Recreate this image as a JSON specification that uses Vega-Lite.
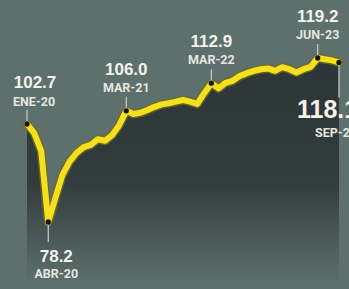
{
  "$schema": "https://vega.github.io/schema/vega-lite/v6.json",
  "width": 349,
  "height": 289,
  "autosize": {"type": "none"},
  "padding": 0,
  "background": "#5e706c",
  "config": {"view": {"stroke": null}},
  "datasets": {
    "series": [
      {"i": 0, "mes": "ENE-20", "v": 102.7},
      {"i": 1, "mes": "FEB-20", "v": 100.5},
      {"i": 2, "mes": "MAR-20", "v": 96.0},
      {"i": 3, "mes": "ABR-20", "v": 78.2},
      {"i": 4, "mes": "MAY-20", "v": 84.2},
      {"i": 5, "mes": "JUN-20", "v": 90.0},
      {"i": 6, "mes": "JUL-20", "v": 93.3},
      {"i": 7, "mes": "AGO-20", "v": 95.5},
      {"i": 8, "mes": "SEP-20", "v": 96.9},
      {"i": 9, "mes": "OCT-20", "v": 97.5},
      {"i": 10, "mes": "NOV-20", "v": 98.9},
      {"i": 11, "mes": "DIC-20", "v": 98.5},
      {"i": 12, "mes": "ENE-21", "v": 99.9},
      {"i": 13, "mes": "FEB-21", "v": 102.4},
      {"i": 14, "mes": "MAR-21", "v": 106.0},
      {"i": 15, "mes": "ABR-21", "v": 105.2},
      {"i": 16, "mes": "MAY-21", "v": 105.5},
      {"i": 17, "mes": "JUN-21", "v": 106.2},
      {"i": 18, "mes": "JUL-21", "v": 107.0},
      {"i": 19, "mes": "AGO-21", "v": 107.6},
      {"i": 20, "mes": "SEP-21", "v": 107.9},
      {"i": 21, "mes": "OCT-21", "v": 108.3},
      {"i": 22, "mes": "NOV-21", "v": 108.7},
      {"i": 23, "mes": "DIC-21", "v": 108.3},
      {"i": 24, "mes": "ENE-22", "v": 107.7},
      {"i": 25, "mes": "FEB-22", "v": 110.4},
      {"i": 26, "mes": "MAR-22", "v": 112.9},
      {"i": 27, "mes": "ABR-22", "v": 111.6},
      {"i": 28, "mes": "MAY-22", "v": 113.0},
      {"i": 29, "mes": "JUN-22", "v": 113.5},
      {"i": 30, "mes": "JUL-22", "v": 114.7},
      {"i": 31, "mes": "AGO-22", "v": 115.4},
      {"i": 32, "mes": "SEP-22", "v": 116.0},
      {"i": 33, "mes": "OCT-22", "v": 116.4},
      {"i": 34, "mes": "NOV-22", "v": 116.6},
      {"i": 35, "mes": "DIC-22", "v": 116.0},
      {"i": 36, "mes": "ENE-23", "v": 116.9},
      {"i": 37, "mes": "FEB-23", "v": 116.4},
      {"i": 38, "mes": "MAR-23", "v": 115.6},
      {"i": 39, "mes": "ABR-23", "v": 116.4},
      {"i": 40, "mes": "MAY-23", "v": 117.0},
      {"i": 41, "mes": "JUN-23", "v": 119.2},
      {"i": 42, "mes": "JUL-23", "v": 118.9},
      {"i": 43, "mes": "AGO-23", "v": 118.6},
      {"i": 44, "mes": "SEP-23", "v": 118.1}
    ],
    "labels": [
      {"i": 0, "mes": "ENE-20", "v": 102.7},
      {"i": 3, "mes": "ABR-20", "v": 78.2},
      {"i": 14, "mes": "MAR-21", "v": 106.0},
      {"i": 26, "mes": "MAR-22", "v": 112.9},
      {"i": 41, "mes": "JUN-23", "v": 119.2},
      {"i": 44, "mes": "SEP-23", "v": 118.1}
    ]
  },
  "encoding": {
    "x": {"field": "i", "type": "quantitative", "axis": null,
          "scale": {"domain": [-3.808, 45.415], "nice": false, "zero": false}},
    "y": {"field": "v", "type": "quantitative", "axis": null,
          "scale": {"domain": [61.45, 133.7], "nice": false, "zero": false}}
  },
  "layer": [
    {
      "data": {"name": "series"},
      "mark": {"type": "area",
               "color": {"gradient": "linear", "x1": 0, "y1": 0, "x2": 0, "y2": 1,
                         "stops": [{"offset": 0, "color": "#2c3637"},
                                   {"offset": 0.55, "color": "#323c3c"},
                                   {"offset": 1, "color": "#5e716d"}]}},
      "encoding": {"y2": {"datum": 62.5}}
    },
    {
      "data": {"name": "series"},
      "mark": {"type": "line", "stroke": "#6e6a26", "strokeWidth": 9, "strokeJoin": "round", "strokeCap": "round", "opacity": 0.8},
      "encoding": {}
    },
    {
      "data": {"name": "series"},
      "mark": {"type": "line", "stroke": "#f4e01c", "strokeWidth": 6, "strokeJoin": "round", "strokeCap": "round"},
      "encoding": {}
    },
    {
      "data": {"name": "labels"},
      "transform": [{"filter": {"field": "mes", "oneOf": ["ENE-20", "MAR-21", "MAR-22", "JUN-23"]}}],
      "mark": {"type": "rule", "stroke": "#c9cec8", "strokeWidth": 1.2, "yOffset": -2, "y2Offset": -14},
      "encoding": {"y2": {"field": "v"}}
    },
    {
      "data": {"name": "labels"},
      "transform": [{"filter": {"field": "mes", "equal": "ABR-20"}}],
      "mark": {"type": "rule", "stroke": "#c9cec8", "strokeWidth": 1.2, "yOffset": 3, "y2Offset": 20},
      "encoding": {"y2": {"field": "v"}}
    },
    {
      "data": {"name": "labels"},
      "transform": [{"filter": {"field": "mes", "equal": "SEP-23"}}],
      "mark": {"type": "rule", "stroke": "#c9cec8", "strokeWidth": 1.2, "yOffset": 3, "y2Offset": 35},
      "encoding": {"y2": {"field": "v"}}
    },
    {
      "data": {"name": "labels"},
      "mark": {"type": "circle", "size": 28, "color": "#141414", "opacity": 1},
      "encoding": {}
    },
    {
      "data": {"name": "labels"},
      "transform": [{"filter": {"field": "mes", "oneOf": ["MAR-21", "MAR-22", "JUN-23"]}}],
      "mark": {"type": "text", "font": "Liberation Sans", "fontWeight": "bold", "fontSize": 17, "color": "#f3f3ee", "align": "center", "baseline": "alphabetic", "dy": -36},
      "encoding": {"text": {"field": "v", "type": "quantitative", "format": ".1f"}}
    },
    {
      "data": {"name": "labels"},
      "transform": [{"filter": {"field": "mes", "oneOf": ["MAR-21", "MAR-22", "JUN-23"]}}],
      "mark": {"type": "text", "font": "Roboto", "fontWeight": "bold", "fontSize": 12.5, "color": "#e4e5df", "align": "center", "baseline": "alphabetic", "dy": -19},
      "encoding": {"text": {"field": "mes"}}
    },
    {
      "data": {"name": "labels"},
      "transform": [{"filter": {"field": "mes", "equal": "ENE-20"}}],
      "mark": {"type": "text", "font": "Liberation Sans", "fontWeight": "bold", "fontSize": 17, "color": "#f3f3ee", "align": "center", "baseline": "alphabetic", "dx": 8, "dy": -36},
      "encoding": {"text": {"field": "v", "type": "quantitative", "format": ".1f"}}
    },
    {
      "data": {"name": "labels"},
      "transform": [{"filter": {"field": "mes", "equal": "ENE-20"}}],
      "mark": {"type": "text", "font": "Roboto", "fontWeight": "bold", "fontSize": 12.5, "color": "#e4e5df", "align": "center", "baseline": "alphabetic", "dx": 7, "dy": -18},
      "encoding": {"text": {"field": "mes"}}
    },
    {
      "data": {"name": "labels"},
      "transform": [{"filter": {"field": "mes", "equal": "ABR-20"}}],
      "mark": {"type": "text", "font": "Liberation Sans", "fontWeight": "bold", "fontSize": 17, "color": "#f3f3ee", "align": "center", "baseline": "alphabetic", "dx": 8, "dy": 40},
      "encoding": {"text": {"field": "v", "type": "quantitative", "format": ".1f"}}
    },
    {
      "data": {"name": "labels"},
      "transform": [{"filter": {"field": "mes", "equal": "ABR-20"}}],
      "mark": {"type": "text", "font": "Roboto", "fontWeight": "bold", "fontSize": 12.5, "color": "#e4e5df", "align": "center", "baseline": "alphabetic", "dx": 8, "dy": 56},
      "encoding": {"text": {"field": "mes"}}
    },
    {
      "data": {"name": "labels"},
      "transform": [{"filter": {"field": "mes", "equal": "SEP-23"}}],
      "mark": {"type": "text", "font": "Liberation Sans", "fontWeight": "bold", "fontSize": 25, "color": "#f3f3ee", "align": "left", "baseline": "alphabetic", "dx": -42, "dy": 56},
      "encoding": {"text": {"field": "v", "type": "quantitative", "format": ".1f"}}
    },
    {
      "data": {"name": "labels"},
      "transform": [{"filter": {"field": "mes", "equal": "SEP-23"}}],
      "mark": {"type": "text", "font": "Roboto", "fontWeight": "bold", "fontSize": 12.5, "color": "#e4e5df", "align": "left", "baseline": "alphabetic", "dx": -24, "dy": 75},
      "encoding": {"text": {"field": "mes"}}
    }
  ]
}
